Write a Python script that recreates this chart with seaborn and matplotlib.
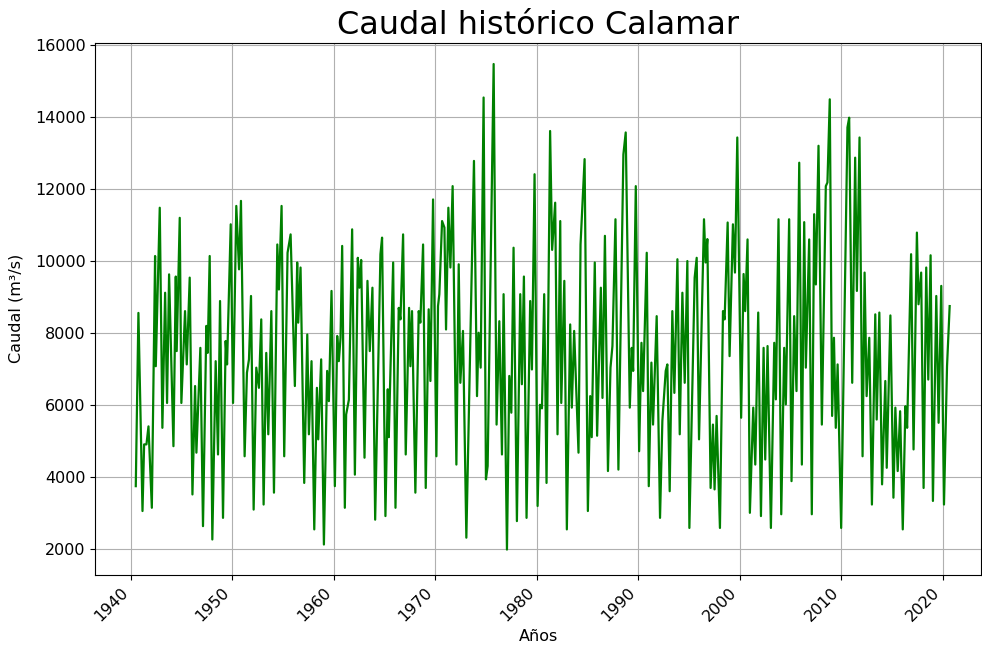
import pandas as pd
import numpy as np
import matplotlib
matplotlib.use('Agg')
import matplotlib.pyplot as plt
import seaborn as sns

# Fechas (año decimal) y caudal, en picos y valles
anios = [
    1940.49, 1940.75, 1941.15, 1941.31, 1941.54, 1941.74, 1942.07, 1942.39, 1942.46, 1942.85,
    1943.11, 1943.38, 1943.57, 1943.77, 1944.20, 1944.43, 1944.52, 1944.82, 1944.98, 1945.34,
    1945.51, 1945.80, 1946.07, 1946.33, 1946.46, 1946.85, 1947.11, 1947.44, 1947.57, 1947.77,
    1948.03, 1948.36, 1948.59, 1948.79, 1949.08, 1949.34, 1949.48, 1949.84, 1950.07, 1950.39,
    1950.66, 1950.85, 1951.21, 1951.44, 1951.64, 1951.84, 1952.10, 1952.36, 1952.62, 1952.85,
    1953.08, 1953.34, 1953.54, 1953.84, 1954.10, 1954.43, 1954.59, 1954.85, 1955.11, 1955.44,
    1955.74, 1956.16, 1956.39, 1956.49, 1956.72, 1957.08, 1957.38, 1957.54, 1957.80, 1958.07,
    1958.33, 1958.46, 1958.75, 1959.02, 1959.34, 1959.51, 1959.77, 1960.10, 1960.33, 1960.49,
    1960.66, 1960.82, 1961.08, 1961.21, 1961.48, 1961.80, 1962.07, 1962.36, 1962.52, 1962.69,
    1963.02, 1963.31, 1963.54, 1963.80, 1964.07, 1964.59, 1964.75, 1965.08, 1965.31, 1965.41,
    1965.84, 1966.07, 1966.39, 1966.56, 1966.82, 1967.08, 1967.41, 1967.54, 1967.70, 1968.03,
    1968.36, 1968.52, 1968.79, 1969.05, 1969.34, 1969.51, 1969.77, 1970.10, 1970.26, 1970.39,
    1970.66, 1970.89, 1971.05, 1971.28, 1971.48, 1971.70, 1972.07, 1972.30, 1972.46, 1972.72,
    1973.05, 1973.80, 1974.10, 1974.26, 1974.46, 1974.75, 1974.98, 1975.15, 1975.74, 1976.03,
    1976.30, 1976.56, 1976.72, 1977.05, 1977.28, 1977.48, 1977.70, 1978.03, 1978.36, 1978.52,
    1978.72, 1978.98, 1979.34, 1979.51, 1979.77, 1980.07, 1980.30, 1980.50, 1980.72, 1980.95,
    1981.30, 1981.50, 1981.80, 1982.03, 1982.30, 1982.40, 1982.70, 1982.95, 1983.28, 1983.44,
    1983.67, 1984.10, 1984.30, 1984.70, 1985.02, 1985.25, 1985.40, 1985.70, 1985.93, 1986.30,
    1986.46, 1986.70, 1987.00, 1987.25, 1987.44, 1987.74, 1988.03, 1988.52, 1988.75, 1989.15,
    1989.34, 1989.48, 1989.74, 1990.07, 1990.30, 1990.46, 1990.82, 1991.02, 1991.28, 1991.44,
    1991.80, 1992.13, 1992.36, 1992.69, 1992.85, 1993.08, 1993.34, 1993.54, 1993.84, 1994.07,
    1994.33, 1994.56, 1994.82, 1995.02, 1995.54, 1995.74, 1995.97, 1996.46, 1996.62, 1996.79,
    1997.11, 1997.34, 1997.50, 1997.70, 1998.03, 1998.33, 1998.49, 1998.79, 1998.98, 1999.31,
    1999.51, 1999.74, 2000.12, 2000.36, 2000.52, 2000.75, 2000.98, 2001.31, 2001.51, 2001.80,
    2002.07, 2002.33, 2002.49, 2002.72, 2003.05, 2003.38, 2003.54, 2003.80, 2004.07, 2004.36,
    2004.52, 2004.85, 2005.08, 2005.34, 2005.57, 2005.84, 2006.10, 2006.33, 2006.49, 2006.82,
    2007.08, 2007.31, 2007.48, 2007.74, 2008.07, 2008.46, 2008.62, 2008.85, 2009.08, 2009.26,
    2009.44, 2009.62, 2009.97, 2010.59, 2010.76, 2011.06, 2011.35, 2011.52, 2011.78, 2012.08,
    2012.28, 2012.48, 2012.74, 2013.00, 2013.33, 2013.47, 2013.73, 2014.00, 2014.32, 2014.46,
    2014.82, 2015.12, 2015.31, 2015.54, 2015.78, 2016.04, 2016.30, 2016.47, 2016.86, 2017.10,
    2017.43, 2017.59, 2017.85, 2018.09, 2018.35, 2018.55, 2018.78, 2019.01, 2019.34, 2019.57,
    2019.83, 2020.10, 2020.40, 2020.66,
]
caudal = [
    3740, 8550, 3050, 4900, 4900, 5400, 3140, 10130, 7070, 11470,
    5360, 9110, 6050, 9620, 4850, 9560, 7490, 11190, 6050, 8600,
    7120, 9530, 3510, 6520, 4670, 7580, 2630, 8190, 7440, 10130,
    2260, 7210, 4620, 8880, 2860, 7770, 7120, 11010, 6050, 11520,
    9760, 11660, 4570, 6890, 7260, 9020, 3090, 7030, 6470, 8370,
    3230, 7440, 5180, 8600, 3560, 10450, 9200, 11520, 4570, 10220,
    10730, 6520, 9950, 8280, 9810, 3830, 7950, 5180, 7210, 2540,
    6470, 5040, 7260, 2120, 6940, 6100, 9160, 3740, 7910, 7210,
    7860, 10410, 3140, 5730, 6140, 10870, 4060, 10080, 9250, 10020,
    4530, 9440, 7490, 9250, 2810, 10180, 10640, 2910, 6430, 5100,
    9950, 3140, 8690, 8370, 10730, 4620, 8690, 7070, 8600, 3560,
    8600, 8280, 10450, 3690, 8650, 6660, 11700, 4570, 8740, 9070,
    11100, 10920, 8090, 11470, 9810, 12070, 4340, 9900, 6610, 8050,
    2310, 12770, 6240, 8000, 7030, 14530, 3930, 4300, 15460, 5450,
    8320, 4620, 9070, 1980, 6800, 5780, 10360, 2770, 9070, 6570,
    9560, 2860, 8880, 6980, 12400, 3190, 6000, 5900, 9070, 3830,
    13600, 10300, 11610, 5180, 11100, 6050, 9440, 2540, 8230, 5920,
    8050, 4670, 10450, 12820, 3050, 6240, 5100, 9950, 5140, 9250,
    6190, 10690, 4160, 7030, 7630, 11150, 4200, 12950, 13560, 5920,
    7580, 6940, 12070, 4710, 7720, 6380, 10220, 3740, 7170, 5450,
    8460, 2860, 5550, 6940, 7120, 3600, 8600, 6330, 10040, 5180,
    9110, 6610, 9990, 2580, 9530, 10080, 5040, 11150, 9950, 10600,
    3690, 5450, 3650, 5690, 2580, 8600, 8370, 11060, 7350, 11010,
    9670, 13420, 5640, 9630, 8600, 10590, 3000, 5920, 4340, 8560,
    2910, 7580, 4480, 7630, 2580, 7720, 6150, 11150, 2960, 7580,
    6010, 11150, 3880, 8460, 6380, 12720, 4340, 11070, 7030, 10590,
    2960, 11290, 9340, 13190, 5450, 12070, 12170, 14480, 5690, 7860,
    5360, 7120, 2580, 13700, 13970, 6610, 12860, 9160, 13420, 4570,
    9670, 6240, 7860, 3230, 8510, 5590, 8560, 3790, 6660, 4250,
    8480, 3420, 5920, 4160, 5820, 2540, 5960, 5360, 10180, 4760,
    10780, 8790, 9670, 3690, 9810, 6700, 10150, 3330, 9020, 5500,
    9300, 3230, 7070, 8740,
]

anios = np.array(anios)
base = pd.to_datetime(np.floor(anios).astype(int).astype(str), format='%Y')
fechas = base + pd.to_timedelta((anios - np.floor(anios)) * 365.25, unit='D')
df = pd.DataFrame({'Fecha': fechas, 'Caudal': caudal})

fig = plt.figure(figsize=(9.82, 6.48), dpi=100)
ax = fig.add_axes([0.097, 0.113, 0.902, 0.821])
sns.lineplot(data=df, x='Fecha', y='Caudal', color='green', linewidth=1.6, ax=ax)
ax.set_title('Caudal histórico Calamar', fontsize=23)
ax.set_xlabel('Años', fontsize=11.5)
ax.set_ylabel('Caudal (m³/s)', fontsize=11.5, labelpad=8)
ax.tick_params(labelsize=11.5)
ax.grid(True)
ax.set_ylim(1280, 16050)
ax.set_xlim(pd.Timestamp('1936-07-01'), pd.Timestamp('2023-10-01'))
plt.setp(ax.get_xticklabels(), rotation=45, ha='right')
fig.savefig('out.png', dpi=100)
